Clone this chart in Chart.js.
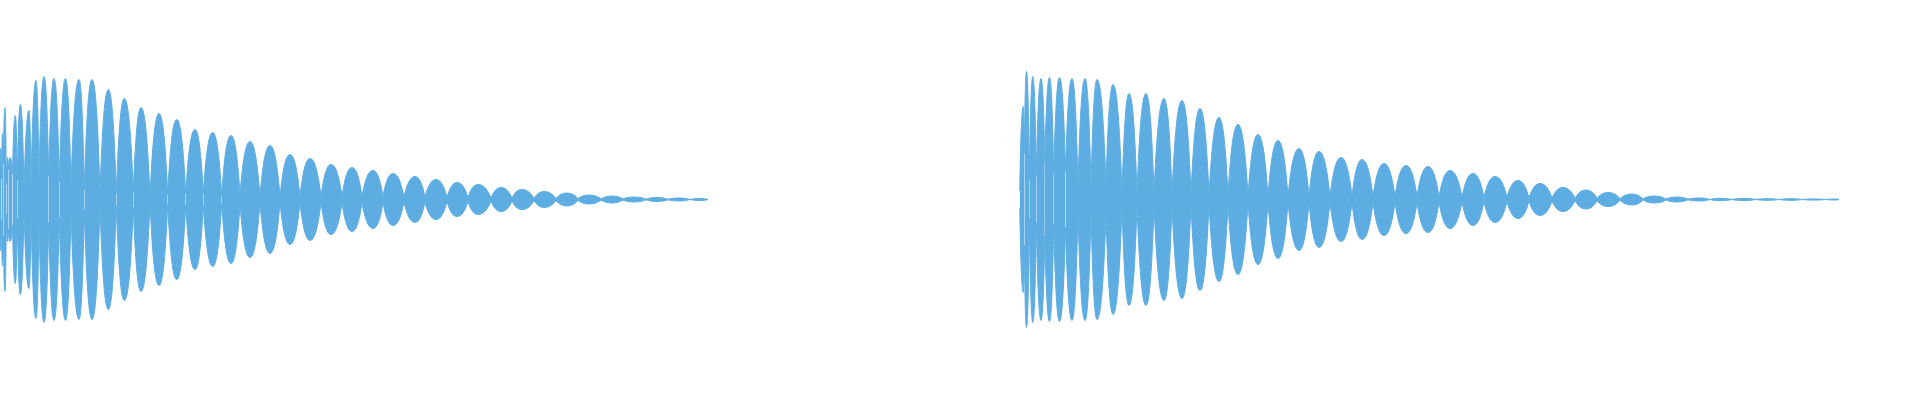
<!DOCTYPE html>
<html>
<head>
<meta charset="utf-8">
<script src="https://cdn.jsdelivr.net/npm/chart.js"></script>
<style>
  html, body { margin: 0; padding: 0; background: #ffffff; }
  #wrap { width: 1920px; height: 400px; }
</style>
</head>
<body>
<div id="wrap"><canvas id="wave" width="1920" height="400"></canvas></div>
<script>
// envelope of the two clips.
// positions alternate: trough, peak, trough, peak ... trough
const clipAX = [
  0, 0.7, 1.5, 2.5, 3.3, 5, 6.3, 7.5, 8.3, 10, 12.5, 15.3, 17.3, 20.3, 24, 29, 31, 36, 39,
  44, 48.7, 54, 59.3, 65.5, 71, 79, 84.3, 92, 100, 108.3, 116.3, 124.3, 133.3, 141, 150,
  159, 167.7, 176.7, 185.7, 195, 203.3, 212.7, 221.7, 231, 240, 250, 260, 270, 280, 290,
  300, 310, 321, 331, 342, 352, 362, 373, 383, 393, 404, 415, 425, 436, 447, 457, 468,
  478, 491, 501, 512, 522, 534, 544, 556, 567, 578, 589, 601, 612, 623, 634, 646, 657,
  668, 679, 690, 700, 708
];
const clipAAmp = [
  28, 51, 21, 66, 36, 92, 15, 42, 30, 42, 26, 84, 19, 95, 9, 89, 13, 119, 21,
  123, 23, 121, 18, 121, 13, 120, 10, 120, 6, 110, 6, 101, 8, 92, 3,
  86, 5, 80, 6, 70, 6, 67, 4, 64, 5, 58, 3, 54, 3, 45,
  3, 41, 3, 35, 3, 32, 3, 29, 3, 26, 2.5, 23, 2.5, 20, 2, 17, 2,
  15, 1.5, 12, 1.5, 10, 1, 8, 1, 6.5, 0.8, 4.5, 0.5, 3.5, 0.5, 2.5, 0.3, 2,
  0.3, 1.5, 0, 1, 0
];

const clipBX = [
  1019.7, 1023.3, 1024.3, 1026.5, 1029.3, 1032.8, 1036.3, 1041, 1044.8, 1049.5, 1053.7,
  1059.5, 1065.5, 1072, 1078, 1085, 1091, 1097, 1106, 1113, 1122, 1129, 1137, 1146, 1154,
  1164, 1172, 1182, 1191, 1200, 1209, 1219, 1228, 1238, 1248, 1258, 1268, 1278, 1288,
  1299, 1309, 1319, 1330, 1341, 1352, 1362, 1373, 1384, 1395, 1406, 1417, 1428, 1439,
  1450, 1462, 1473, 1484, 1495, 1507, 1518, 1529, 1540, 1552, 1563, 1575, 1586, 1597,
  1608, 1620, 1632, 1643, 1654, 1666, 1677, 1688, 1699, 1710, 1720, 1732, 1744, 1756,
  1767, 1779, 1790, 1803, 1813, 1826, 1835, 1839
];
const clipBAmp = [
  9, 93, 46, 128, 19, 123, 23, 121, 37, 122, 25,
  122, 28, 121, 13, 121, 12, 120, 15, 115, 6, 106, 6, 106, 6,
  101, 6, 99, 5, 91, 4, 82, 5, 75, 3, 65, 3, 59, 3,
  51, 3, 48, 3, 42, 3, 40, 3, 36, 3, 34, 3, 33, 2.5,
  29, 2.5, 26, 2, 23, 2, 19, 1.5, 16, 1.5, 12, 1, 9.5, 1,
  7, 0.8, 5.5, 0.5, 3.5, 0.5, 2.5, 0.3, 1.5, 0, 1.2, 0, 1, 0,
  0.8, 0, 0.8, 0, 0.6, 0, 0.5, 0
];

const waveColor = '#5dade2';

// one closed lobe per peak, a gap after each so every null stays pointed
function lobes(xs, amps, sign){
    const pts = [];
    for(let i = 1; i < xs.length - 1; i += 2){
        pts.push({x: xs[i-1], y: sign*amps[i-1]});
        pts.push({x: xs[i],   y: sign*amps[i]});
        pts.push({x: xs[i+1], y: sign*amps[i+1]});
        pts.push({x: xs[i+1], y: null});
    }
    return pts;
}

const upper = lobes(clipAX, clipAAmp, 1).concat(lobes(clipBX, clipBAmp, 1));
const lower = lobes(clipAX, clipAAmp, -1).concat(lobes(clipBX, clipBAmp, -1));

// reshape the bezier handles so each lobe is round on top and steep at its nulls
const lobeShape = {
    id: 'lobeShape',
    beforeDatasetsDraw(chart){
        chart.data.datasets.forEach((ds, di) => {
            const meta = chart.getDatasetMeta(di);
            meta.dataset.updateControlPoints(chart.chartArea, 'x');
            const pts = meta.data;
            for(let i = 0; i + 2 < pts.length; i += 4){
                const t0 = pts[i], pk = pts[i+1], t1 = pts[i+2];
                t0.cp2x = t0.x + 0.25*(pk.x - t0.x);
                t0.cp2y = t0.y + 0.6*(pk.y - t0.y);
                pk.cp1x = pk.x - 0.45*(pk.x - t0.x);
                pk.cp1y = pk.y;
                pk.cp2x = pk.x + 0.45*(t1.x - pk.x);
                pk.cp2y = pk.y;
                t1.cp1x = t1.x - 0.25*(t1.x - pk.x);
                t1.cp1y = t1.y + 0.6*(pk.y - t1.y);
            }
        });
    }
};

const ctx = document.getElementById('wave').getContext('2d');
new Chart(ctx, {
    type: 'line',
    data: {
        datasets: [{
            data: upper,
            borderColor: waveColor,
            backgroundColor: waveColor,
            borderWidth: 1,
            fill: '+1',
            tension: 0.4,
            pointRadius: 0,
            spanGaps: false
        }, {
            data: lower,
            borderColor: waveColor,
            backgroundColor: waveColor,
            borderWidth: 1,
            fill: false,
            tension: 0.4,
            pointRadius: 0,
            spanGaps: false
        }]
    },
    options: {
        responsive: false,
        devicePixelRatio: 1,
        animation: false,
        layout: { padding: 0, autoPadding: false },
        plugins: { legend: { display: false }, tooltip: { enabled: false } },
        scales: {
            x: { type: 'linear', min: 0, max: 1920, display: false },
            y: { min: -200.5, max: 199.5, display: false }
        }
    },
    plugins: [lobeShape]
});
</script>
</body>
</html>
